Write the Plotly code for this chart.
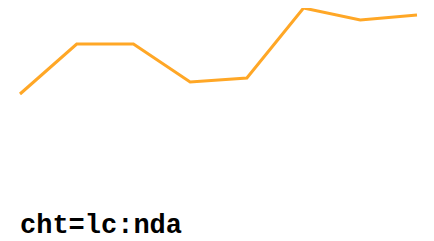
import plotly.graph_objects as go

categories = list(range(8))
values = [53, 78, 78, 59, 61, 96, 90, 92.5]
caption = "cht=lc:nda"

fig = go.Figure()
fig.add_trace(go.Scatter(x=categories, y=values, mode="lines",
                         line=dict(color="#FFA726", width=3), hoverinfo="skip"))
fig.update_layout(
    width=434, height=241,
    margin=dict(l=0, r=0, t=0, b=0),
    paper_bgcolor="white", plot_bgcolor="white",
    showlegend=False,
    xaxis=dict(visible=False, range=[-0.2116, 7.441]),
    yaxis=dict(visible=False, range=[-24.5, 96]),
    annotations=[dict(text=caption, x=10/434, y=1 - 217.5/241, xref="paper", yref="paper",
                      xanchor="left", yanchor="middle", showarrow=False,
                      font=dict(family="Liberation Mono", size=27, color="black", weight="bold"))],
)
fig.write_html("out.html")
